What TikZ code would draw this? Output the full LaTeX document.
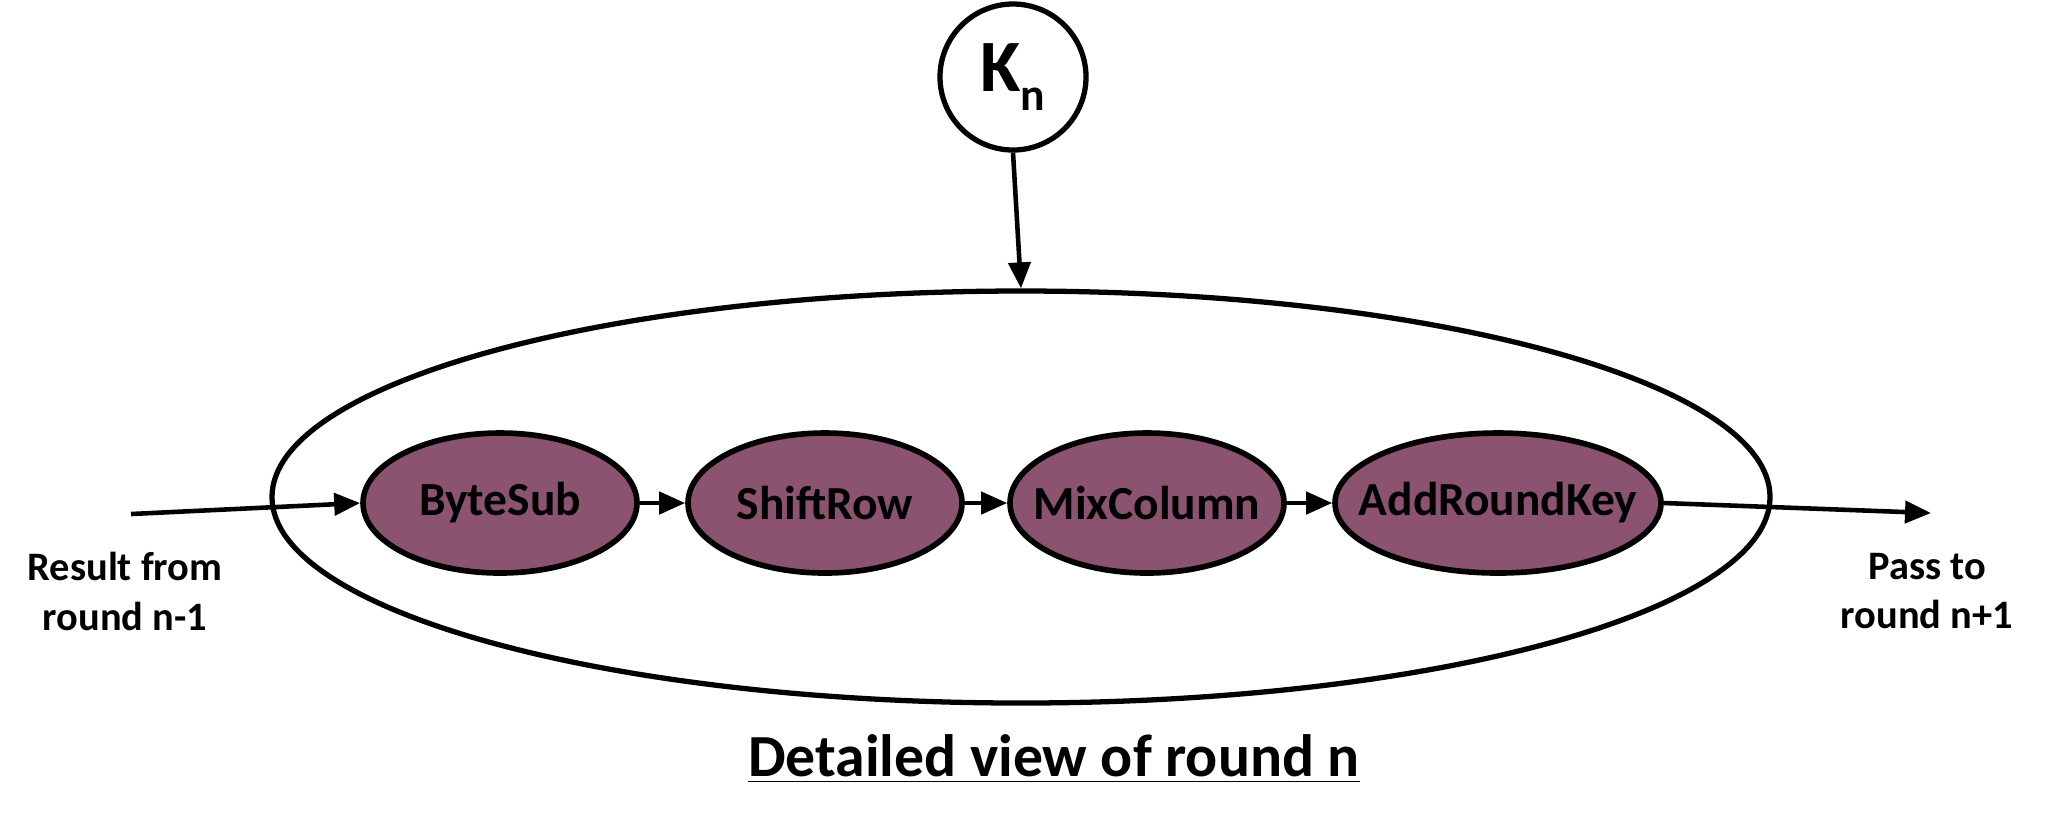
\documentclass[tikz,border=0pt]{standalone}
\usepackage{fontspec}
\setmainfont{Carlito}
\usetikzlibrary{positioning,arrows.meta,shapes.geometric}
\definecolor{stagefill}{RGB}{139,83,111}

\begin{document}
\begin{tikzpicture}[
  font=\bfseries,
  stage/.style={ellipse, draw, line width=1.6pt, fill=stagefill, inner sep=0pt,
                minimum width=2.74cm, minimum height=1.4cm,
                font=\fontsize{13.5}{15}\selectfont\bfseries},
  side/.style={align=center, font=\fontsize{11.5}{14.2}\selectfont\bfseries},
  sig/.style={-{Triangle[length=2.6mm,width=2.2mm]}, line width=1.3pt}
]
\useasboundingbox (0,0) rectangle (20.56,-8.36);

% Key input for this round
\node[circle, draw, line width=1.5pt, minimum size=1.46cm, inner sep=0pt,
      font=\fontsize{21}{21}\selectfont\bfseries] (key) at (10.13,-0.77)
  {K\raisebox{-0.55ex}{\fontsize{13}{13}\selectfont n}};

% Outer ellipse: the whole round
\node[ellipse, draw, line width=1.5pt, minimum width=14.98cm,
      minimum height=4.12cm] (round) at (10.21,-4.97) {};

% The four steps of the round (zero-width text keeps the ellipse size fixed)
\node[stage] (bytesub) at (5.00,-5.03) {\makebox[0pt]{ByteSub}};
\node[stage] (shiftrow) at (8.25,-5.03) {\makebox[0pt]{ShiftRow}};
\node[stage] (mixcol) at (11.47,-5.03) {\makebox[0pt]{MixColumn}};
\node[stage, minimum width=3.26cm] (addkey) at (14.98,-5.03)
  {\makebox[0pt]{AddRoundKey}};

% In and out of the round
\coordinate (prev) at (1.31,-5.14);
\coordinate (next) at (19.31,-5.13);
\node[side] (prevtxt) at (1.25,-5.91) {Result from\\round n-1};
\node[side] (nexttxt) at (19.27,-5.91) {Pass to\\round n+1};

\node[anchor=base, font=\fontsize{17}{20}\selectfont\bfseries] (title)
  at (10.54,-7.76) {\underline{Detailed view of round n}};

% Connectors
\draw[sig] (key.south) -- (round.north);
\draw[sig] (prev) -- (bytesub.west);
\draw[sig] (bytesub) -- (shiftrow);
\draw[sig] (shiftrow) -- (mixcol);
\draw[sig] (mixcol) -- (addkey);
\draw[sig] (addkey.east) -- (next);

\end{tikzpicture}
\end{document}
